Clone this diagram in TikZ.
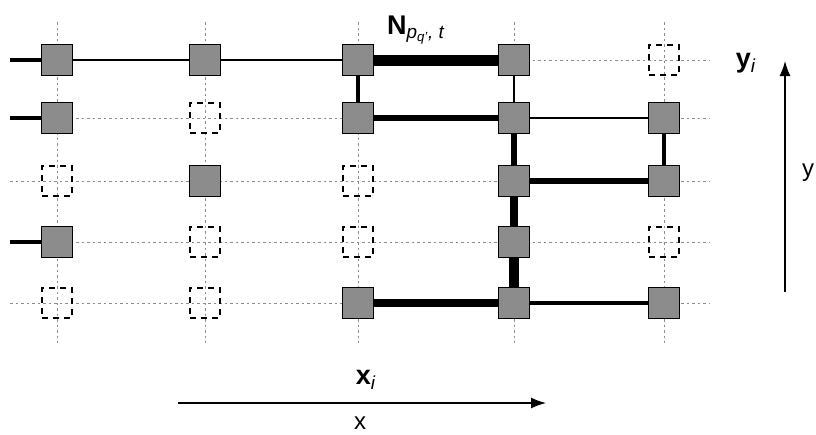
\documentclass[tikz,border=0pt]{standalone}
\usepackage{fontspec}
\setmainfont{Liberation Sans}
\usetikzlibrary{arrows.meta}
\begin{document}
\begin{tikzpicture}[x=1pt,y=-1pt,
  cell/.style={draw=black,line width=1.8pt,fill=black!45,minimum size=31pt,inner sep=0pt},
  ghost/.style={draw=black,line width=1.8pt,dash pattern=on 6pt off 5pt,minimum size=30pt,inner sep=0pt},
  gridline/.style={draw=black!45,line width=0.9pt,dash pattern=on 2.5pt off 3pt},
  lbl/.style={font=\fontsize{24}{28}\selectfont,inner sep=0pt},
  big/.style={font=\fontsize{27}{31}\selectfont,inner sep=0pt},
  axis/.style={line width=1.4pt,-{Latex[length=15pt,width=11pt]}}]
\useasboundingbox (0,0) rectangle (816,434);
% grid
\foreach \x in {57,205,358,514,664} \draw[gridline] (\x,22) -- (\x,343);
\foreach \y in {60,118,181,242,303} \draw[gridline] (10,\y) -- (710,\y);
% row 1
\node[cell] (n11) at (57,60) {};
\node[cell] (n21) at (205,60) {};
\node[cell] (n31) at (358,60) {};
\node[cell] (n41) at (514,60) {};
\node[ghost] (d51) at (664,60) {};
% row 2
\node[cell] (n12) at (57,118) {};
\node[ghost] (d22) at (205,118) {};
\node[cell] (n32) at (358,118) {};
\node[cell] (n42) at (514,118) {};
\node[cell] (n52) at (664,118) {};
% row 3
\node[ghost] (d13) at (57,181) {};
\node[cell] (n23) at (205,181) {};
\node[ghost] (d33) at (358,181) {};
\node[cell] (n43) at (514,181) {};
\node[cell] (n53) at (664,181) {};
% row 4
\node[cell] (n14) at (57,242) {};
\node[ghost] (d24) at (205,242) {};
\node[ghost] (d34) at (358,242) {};
\node[cell] (n44) at (514,242) {};
\node[ghost] (d54) at (664,242) {};
% row 5
\node[ghost] (d15) at (57,303) {};
\node[ghost] (d25) at (205,303) {};
\node[cell] (n35) at (358,303) {};
\node[cell] (n45) at (514,303) {};
\node[cell] (n55) at (664,303) {};
% stubs
\coordinate (s1) at (10,60);
\coordinate (s2) at (10,118);
\coordinate (s4) at (10,242);
\draw[line width=3.2pt] (s1) -- (n11);
\draw[line width=4.5pt] (s2) -- (n12);
\draw[line width=3.8pt] (s4) -- (n14);
% horizontal connectors
\draw[line width=2.2pt] (n11) -- (n21);
\draw[line width=2.2pt] (n21) -- (n31);
\draw[line width=11pt] (n31) -- (n41);
\draw[line width=6.5pt] (n32) -- (n42);
\draw[line width=2pt] (n42) -- (n52);
\draw[line width=5.5pt] (n43) -- (n53);
\draw[line width=8.5pt] (n35) -- (n45);
\draw[line width=3.2pt] (n45) -- (n55);
% vertical connectors
\draw[line width=4pt] (n31) -- (n32);
\draw[line width=1.8pt] (n41) -- (n42);
\draw[line width=6.5pt] (n42) -- (n43);
\draw[line width=7.5pt] (n43) -- (n44);
\draw[line width=9.5pt] (n44) -- (n45);
\draw[line width=4.5pt] (n52) -- (n53);
% labels
\node[big] (lN) at (416,30) {\textbf{N}\textsubscript{\textit{p}\textsubscript{\textit{q'}}\textit{, t}}};
\node[big] (lyi) at (746,63) {\textbf{y}\textsubscript{\textit{i}}};
\node[big] (lxi) at (366,380) {\textbf{x}\textsubscript{\textit{i}}};
% axes
\coordinate (ax0) at (178,403);
\coordinate (ax1) at (546,403);
\draw[axis] (ax0) -- (ax1);
\node[lbl] (lx) at (360,423) {x};
\coordinate (ay0) at (785,292);
\coordinate (ay1) at (785,61);
\draw[axis] (ay0) -- (ay1);
\node[lbl] (ly) at (808,173) {y};
\end{tikzpicture}
\end{document}
